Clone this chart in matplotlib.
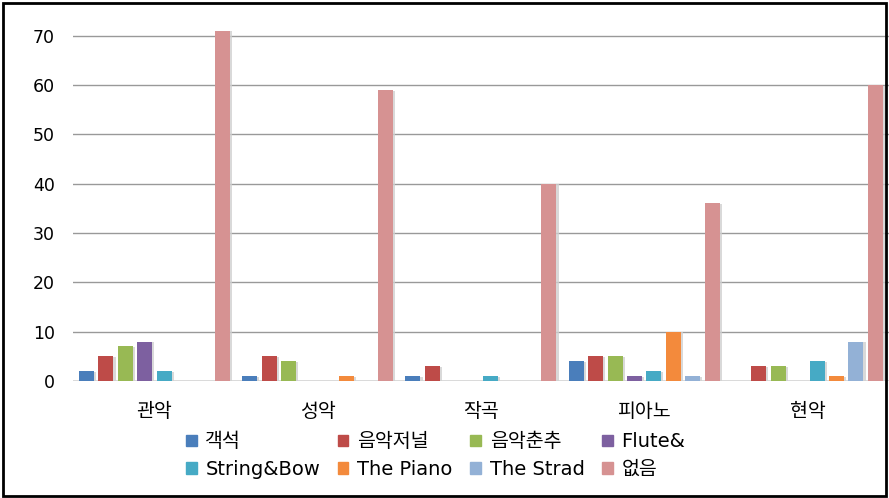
import matplotlib.pyplot as plt
import matplotlib.patheffects as pe
from matplotlib.patches import Patch, Rectangle
import numpy as np

plt.rcParams['font.family'] = ['DejaVu Sans', 'Noto Sans CJK KR']

# Data
categories = ['관악', '성악', '작곡', '피아노', '현악']
series = ['객석', '음악저널', '음악춘추', 'Flute&', 'String&Bow', 'The Piano', 'The Strad', '없음']
values = [
    [2, 1, 1, 4, 0],       # 객석
    [5, 5, 3, 5, 3],       # 음악저널
    [7, 4, 0, 5, 3],       # 음악춘추
    [8, 0, 0, 1, 0],       # Flute&
    [2, 0, 1, 2, 4],       # String&Bow
    [0, 1, 0, 10, 1],      # The Piano
    [0, 0, 0, 1, 8],       # The Strad
    [71, 59, 40, 36, 60],  # 없음
]
colors = ['#4A7EBB', '#BE4B48', '#98B954', '#7D60A0', '#46AAC5', '#F38A3C', '#93B1D6', '#D69292']

fig = plt.figure(figsize=(8.89, 4.98), dpi=100)
ax = fig.add_axes([0.082, 0.235, 0.918, 0.743])

x = np.arange(len(categories))
step = 0.119
width = 0.092
shadow = [pe.SimplePatchShadow(offset=(1.5, -0.5), shadow_rgbFace='#d0d0d0', alpha=0.8), pe.Normal()]
for i, (name, vals) in enumerate(zip(series, values)):
    offs = (i - (len(series) - 1) / 2) * step
    bars = ax.bar(x + offs, vals, width, color=colors[i], label=name, zorder=3)
    for b in bars:
        b.set_path_effects(shadow)

ax.set_xlim(-0.5, len(categories) - 0.5)
ax.set_ylim(0, 75)
ax.set_yticks(range(0, 71, 10))
ax.yaxis.grid(True, color='#999999', linewidth=1, zorder=0)
ax.set_axisbelow(True)
for s in ax.spines.values():
    s.set_visible(False)
ax.axhline(0, color='#999999', linewidth=1, zorder=1)
ax.set_xticks(x)
ax.set_xticklabels(categories, fontsize=14)
ax.tick_params(axis='x', length=0, pad=15)
ax.tick_params(axis='y', length=0, pad=13, labelsize=12.5)

# legend filled row by row: 4 per row
order = [0, 4, 1, 5, 2, 6, 3, 7]
handles = [Patch(color=colors[k]) for k in order]
labels = [series[k] for k in order]
fig.legend(handles, labels, ncol=4, loc='center', bbox_to_anchor=(0.49, 0.085),
           frameon=False, fontsize=14, handlelength=0.55, handleheight=0.55,
           handletextpad=0.45, columnspacing=0.9, labelspacing=0.45)

# outer frame
fig.patches.append(Rectangle((0.003, 0.004), 0.994, 0.99, transform=fig.transFigure,
                             fill=False, edgecolor='black', linewidth=2))

fig.savefig('out.png', dpi=100)
